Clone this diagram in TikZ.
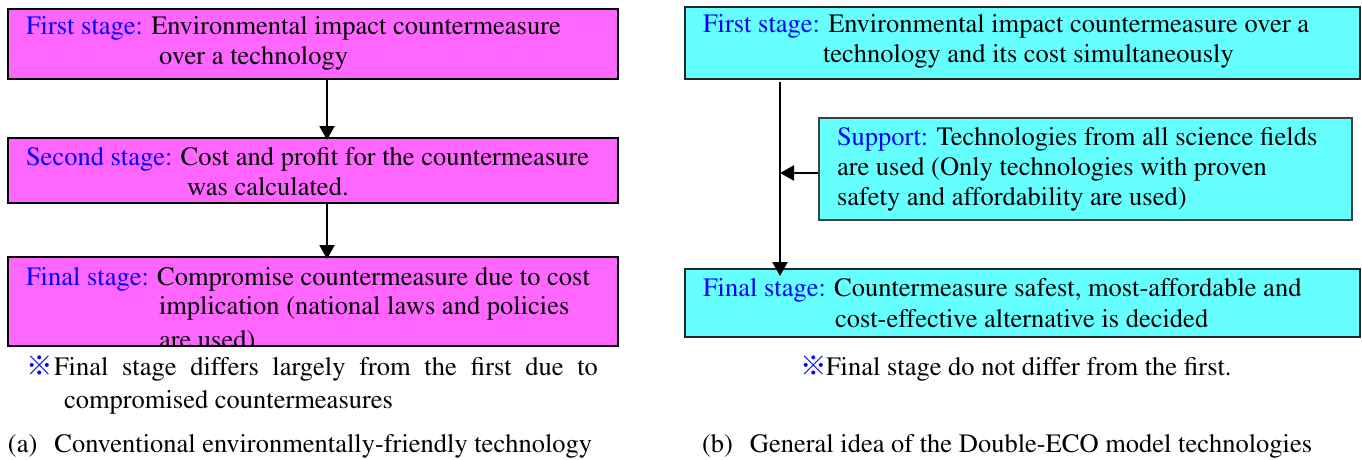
\documentclass[tikz,border=0pt]{standalone}
\usepackage[T1,TU]{fontenc}
\usepackage{fontspec}
\setmainfont{Liberation Serif}
\newfontfamily\cjkfont{Noto Sans CJK JP}
\usetikzlibrary{arrows.meta}
\definecolor{magfill}{HTML}{FF66FF}
\definecolor{cyanfill}{HTML}{66FFFF}
\definecolor{stageblue}{HTML}{0000FF}
\newcommand{\stg}[1]{\textcolor{stageblue}{#1}}
\newcommand{\kome}{{\cjkfont\textcolor{stageblue}{※}}}
\tikzset{
  magbox/.style={draw=black, line width=2pt, fill=magfill, rectangle, inner sep=0pt},
  cyanbox/.style={draw=black!85, line width=2pt, fill=cyanfill, rectangle, inner sep=0pt},
  supbox/.style={draw=black!75, line width=1.6pt, fill=cyanfill, rectangle, inner sep=0pt},
  txt/.style={anchor=base west, inner sep=0pt, outer sep=0pt, font=\fontencoding{T1}\fontfamily{ptm}\fontsize{26.5}{30}\selectfont},
  arr/.style={line width=2pt, -{Triangle[length=14pt,width=15pt]}}
}
\begin{document}
\begin{tikzpicture}[x=1pt,y=-1pt]
\useasboundingbox (0,0) rectangle (1362,460);
% ---------- left panel ----------
\node[magbox, minimum width=610pt, minimum height=70pt] (L1) at (313,44) {};
\node[magbox, minimum width=610pt, minimum height=65pt] (L2) at (313,170.5) {};
\node[magbox, minimum width=610pt, minimum height=89pt] (L3) at (313,301.5) {};
\coordinate (ax) at (327,0);
\draw[arr] (L1.south -| ax) -- ([yshift=-3pt]L2.north -| ax);
\draw[arr] (L2.south -| ax) -- ([yshift=-3pt]L3.north -| ax);

\node[txt] (t11) at (26,35) {\stg{First stage:} Environmental impact countermeasure};
\node[txt] (t12) at (159,65) {over a technology};
\node[txt] (t21) at (26,165) {\stg{Second stage:} Cost and profit for the countermeasure};
\node[txt] (t22) at (187,195) {was calculated.};
\node[txt] (t31) at (26,285) {\stg{Final stage:} Compromise countermeasure due to cost};
\node[txt] (t32) at (159,314) {implication (national laws and policies};
\begin{scope}
  \clip ([xshift=1pt,yshift=-1pt]L3.north west) rectangle ([xshift=-1pt,yshift=1pt]L3.south east);
  \node[txt] (t33) at (159,348) {are used)};
\end{scope}

\node[txt] (nk1) at (26,375) {\kome};
\node[txt] (n1) at (54,375) {\makebox[544pt][s]{Final stage differs largely from the first due to}};
\node[txt] (n2) at (64,408) {compromised countermeasures};
\node[txt] (capa) at (8,452) {(a)\hspace{17pt}Conventional environmentally-friendly technology};

% ---------- right panel ----------
\node[cyanbox, minimum width=675pt, minimum height=72pt] (R1) at (1022.5,43) {};
\node[supbox, minimum width=533pt, minimum height=102pt] (S) at (1085.5,169) {};
\node[cyanbox, minimum width=675pt, minimum height=68pt] (R3) at (1022.5,303) {};
\coordinate (vx) at (780,0);
\draw[arr] ([yshift=-2pt]R1.south -| vx) -- ([yshift=-8pt]R3.north -| vx);
\draw[arr] ([yshift=-4pt]S.west) -- ([yshift=-4pt]S.west -| vx);

\node[txt] (r11) at (703,33) {\stg{First stage:} Environmental impact countermeasure over a};
\node[txt] (r12) at (823,63) {technology and its cost simultaneously};
\node[txt] (s1) at (837,145) {\stg{Support:} Technologies from all science fields};
\node[txt] (s2) at (837,175) {are used (Only technologies with proven};
\node[txt] (s3) at (837,205) {safety and affordability are used)};
\node[txt] (r31) at (703,296) {\stg{Final stage:} Countermeasure safest, most-affordable and};
\node[txt] (r32) at (835,327) {cost-effective alternative is decided};

\node[txt] (nk2) at (800,375) {\kome};
\node[txt] (n3) at (826,375) {Final stage do not differ from the first.};
\node[txt] (capb) at (702,452) {(b)\hspace{17pt}General idea of the Double-ECO model technologies};
\end{tikzpicture}
\end{document}
